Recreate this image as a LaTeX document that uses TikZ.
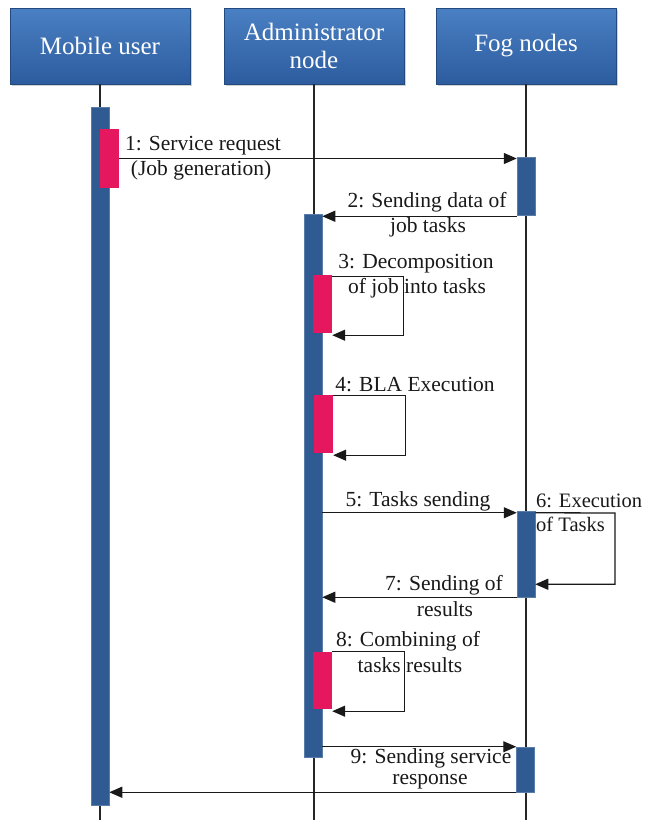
\documentclass[tikz,border=0pt]{standalone}
\usepackage{fontspec}
\setmainfont{Liberation Serif}
\usetikzlibrary{arrows.meta,shadows,calc}
\definecolor{hdtop}{HTML}{4A80C4}
\definecolor{hdbot}{HTML}{2C5C9E}
\definecolor{barblue}{HTML}{2F5B92}
\definecolor{barpink}{HTML}{E5175F}
\begin{document}
\begin{tikzpicture}[x=1pt,y=-1pt,
  header/.style={rectangle, minimum width=180pt, minimum height=76pt, top color=hdtop, bottom color=hdbot,
     draw=hdbot!80!black, line width=0.4pt, drop shadow={shadow xshift=2pt,shadow yshift=-2pt,opacity=0.35},
     text=white, font=\fontsize{25}{28}\selectfont, align=center, inner sep=0pt},
  lifeline/.style={line width=1.2pt, draw=black!85},
  actbar/.style={rectangle, fill=barblue, draw=barblue!80!white, line width=0.5pt, minimum width=18pt, inner sep=0pt},
  pinkbar/.style={rectangle, fill=barpink, draw=none, minimum width=19pt, inner sep=0pt},
  msg/.style={line width=1.3pt, draw=black!90, -{Triangle[length=13pt,width=11pt]}},
  lbl/.style={font=\fontsize{21.5}{24}\selectfont, text=black!90, inner sep=0pt},
]
\useasboundingbox (0,0) rectangle (646,820);
\fill[white] (0,0) rectangle (646,820);

% headers
\node[header] (mu) at (100,46) {Mobile user};
\node[header] (an) at (314,46) {Administrator\\node};
\node[header] (fg) at (526,46) {Fog nodes};

% lifeline ends
\coordinate (muend) at (100,820);
\coordinate (anend) at (314,820);
\coordinate (fgend) at (526,820);
\draw[lifeline] (mu.south) -- (muend);
\draw[lifeline] (an.south) -- (anend);
\draw[lifeline] (fg.south) -- (fgend);

% activation bars
\node[actbar, minimum height=698pt] (mb) at (100,456) {};
\node[pinkbar, minimum height=59pt] (mp) at (109.5,158.5) {};
\node[actbar, minimum height=58pt] (fb1) at (526,186) {};
\node[actbar, minimum height=543pt] (ab) at (313,485.5) {};
\node[pinkbar, minimum height=58pt] (ap3) at (322.5,304) {};
\node[pinkbar, minimum height=58pt] (ap4) at (323.5,424) {};
\node[actbar, minimum height=86pt] (fb2) at (526,554) {};
\node[pinkbar, minimum height=57pt] (ap8) at (322.5,680.5) {};
\node[actbar, minimum height=45pt] (fb3) at (525.5,769.5) {};

% 1
\draw[msg] (mp.east) -- (mp.east -| fb1.west);
\node[lbl] (l1a) at (203,146) {1: Service request};
\node[lbl] (l1b) at (201,170) {(Job generation)};
% 2
\coordinate (m2) at ([yshift=-1pt]fb1.south west);
\draw[msg] (m2) -- (m2 -| ab.east);
\node[lbl] (l2a) at (427,202) {2: Sending data of};
\node[lbl] (l2b) at (428,227) {job tasks};
% 3
\coordinate (m3a) at ([yshift=-2pt]ap3.north east);
\coordinate (m3b) at ([yshift=-2pt]ap3.south east);
\draw[msg] (m3a) -- ++(71,0) |- (m3b);
\node[lbl] (l3a) at (416,264) {3: Decomposition};
\node[lbl] (l3b) at (417,288) {of job into tasks};
% 4
\coordinate (m4a) at ([yshift=-1pt]ap4.north east);
\coordinate (m4b) at ([yshift=-2pt]ap4.south east);
\draw[msg] (m4a) -- ++(72,0) |- (m4b);
\node[lbl] (l4) at (415,385) {4: BLA Execution};
% 5
\coordinate (m5) at ([yshift=-2pt]fb2.north west);
\draw[msg] (m5 -| ab.east) -- (m5);
\node[lbl] (l5) at (418,501) {5: Tasks sending};
% 6
\coordinate (m6a) at ([yshift=-2pt]fb2.north east);
\coordinate (m6b) at ([yshift=13pt]fb2.south east);
\draw[msg] (m6a) -- (615,513) |- (m6b);
\node[lbl, anchor=west, font=\fontsize{20.5}{24}\selectfont] (l6a) at (536,501) {6: Execution};
\node[lbl, anchor=west, font=\fontsize{20.5}{24}\selectfont] (l6b) at (536,524) {of Tasks};
% 7
\draw[msg] (fb2.south west) -- (fb2.south west -| ab.east);
\node[lbl] (l7a) at (444,585) {7: Sending of};
\node[lbl] (l7b) at (445,609) {results};
% 8
\coordinate (m8a) at (ap8.north east);
\coordinate (m8b) at ([yshift=-2pt]ap8.south east);
\draw[msg] (m8a) -- ++(72,0) |- (m8b);
\node[lbl] (l8a) at (408,641) {8: Combining of};
\node[lbl] (l8b) at (410,665) {tasks results};
% 9
\draw[msg] (fb3.north west -| ab.east) -- (fb3.north west);
\node[lbl] (l9a) at (431,758) {9: Sending service};
\node[lbl] (l9b) at (430,782) {response};
% 10
\draw[msg] (fb3.south west) -- (fb3.south west -| mb.east);
\end{tikzpicture}
\end{document}
